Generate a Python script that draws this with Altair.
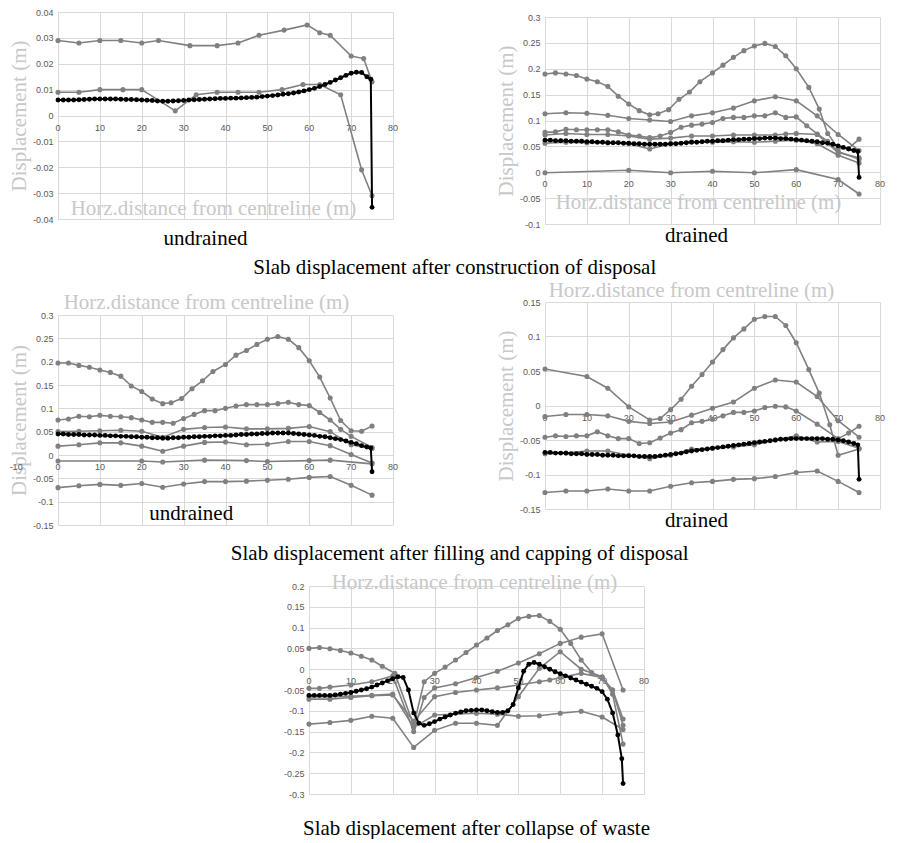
import altair as alt
import pandas as pd

SERIF = "Liberation Serif"
SANS = "Liberation Sans"
GRAY = "#808080"
GRID = "#d9d9d9"
LIGHT = "#c8c8c8"
LABEL = "#595959"
XTITLE = "Horz.distance from centreline (m)"
YTITLE = "Displacement (m)"

# x positions of the dense (black) mesh series
BLACK_X = [0, 1.25, 2.5, 3.75, 5, 6.25, 7.5, 8.75, 10, 11.25, 12.5, 13.75, 15, 16.25, 17.5, 18.75, 20,
           21.25, 22.5, 23.75, 25, 26.25, 27.5, 28.75, 30,
           31.25, 32.5, 33.75, 35, 36.25, 37.5, 38.75, 40, 41.25, 42.5, 43.75, 45,
           46.25, 47.5, 48.75, 50, 51.25, 52.5, 53.75, 55, 56.25, 57.5, 58.75, 60,
           61.25, 62.5, 63.75, 65, 66.25, 67.5, 68.75, 70, 71.25, 72.5, 73.75,
           74.7, 75]

# ---------------- panel 1 : construction, undrained ----------------
P1_BLACK = [0.0060, 0.0060, 0.0060, 0.0060, 0.0061, 0.0062, 0.0063, 0.0064, 0.0064, 0.0064, 0.0064, 0.0064, 0.0063, 0.0062, 0.0062, 0.0061, 0.0060,
            0.0059, 0.0058, 0.0056, 0.0055, 0.0055, 0.0056, 0.0057, 0.0058,
            0.0060, 0.0061, 0.0062, 0.0063, 0.0064, 0.0065, 0.0066, 0.0066, 0.0067, 0.0067, 0.0068, 0.0069,
            0.0070, 0.0071, 0.0073, 0.0075, 0.0077, 0.0079, 0.0082, 0.0084, 0.0087, 0.0091, 0.0095, 0.0100,
            0.0105, 0.0112, 0.0120, 0.0128, 0.0137, 0.0146, 0.0155, 0.0163, 0.0167, 0.0166, 0.0150,
            0.0140, -0.0355]
P1_A_X = [0, 5, 10, 15, 20, 24, 31.5, 38, 43, 48, 54, 59.5, 62.5, 65, 70, 73, 75]
P1_A_Y = [0.029, 0.028, 0.029, 0.029, 0.028, 0.029, 0.027, 0.027, 0.028, 0.031, 0.033, 0.035, 0.032, 0.031, 0.023, 0.022, 0.013]
P1_B_X = [0, 5, 10, 15.5, 20, 28, 33, 38, 43, 48, 53.5, 58.5, 62.5, 67.5, 72.5, 75]
P1_B_Y = [0.009, 0.009, 0.010, 0.010, 0.010, 0.0018, 0.008, 0.009, 0.009, 0.009, 0.010, 0.012, 0.012, 0.008, -0.021, -0.031]
P1_YTICKS = [-0.04, -0.03, -0.02, -0.01, 0, 0.01, 0.02, 0.03, 0.04]

# ---------------- panel 2 : construction, drained ----------------
P2_BLACK = [0.062, 0.062, 0.061, 0.061, 0.061, 0.060, 0.060, 0.060, 0.059, 0.059, 0.058, 0.058, 0.057, 0.057, 0.057, 0.056, 0.056,
            0.055, 0.055, 0.054, 0.054, 0.054, 0.054, 0.054, 0.055,
            0.055, 0.056, 0.057, 0.058, 0.058, 0.059, 0.060, 0.060, 0.061, 0.061, 0.062, 0.063,
            0.063, 0.064, 0.064, 0.065, 0.065, 0.066, 0.066, 0.066, 0.065, 0.065, 0.064, 0.063,
            0.062, 0.061, 0.060, 0.059, 0.057, 0.056, 0.054, 0.051, 0.048, 0.045, 0.042,
            0.040, -0.010]
P2_A_X = [0, 2.5, 5, 7.5, 10, 12.5, 15, 17.5, 20, 22.5, 25, 27, 29.5, 32, 34.5, 37, 40, 42.5, 45, 47.5, 50, 52.5, 55, 57.5, 60, 63, 65.5, 67.5, 70, 72.5, 75]
P2_A_Y = [0.190, 0.192, 0.190, 0.187, 0.180, 0.175, 0.166, 0.147, 0.132, 0.119, 0.111, 0.113, 0.121, 0.141, 0.155, 0.175, 0.192, 0.207, 0.222, 0.235, 0.244, 0.249, 0.243, 0.225, 0.200, 0.164, 0.122, 0.075, 0.046, 0.046, 0.064]
P2_B_X = [0, 5, 10, 15, 20, 25, 30, 35, 40, 45, 50, 55, 60, 65, 70, 75]
P2_B_Y = [0.113, 0.115, 0.114, 0.110, 0.104, 0.101, 0.098, 0.109, 0.115, 0.124, 0.138, 0.146, 0.138, 0.109, 0.073, 0.042]
P2_C_X = [0, 2.5, 5, 7.5, 10, 12.5, 15, 17.5, 20, 22.5, 25, 27.5, 30, 32.5, 35, 37.5, 40, 42.5, 45, 47.5, 50, 52.5, 55, 57.5, 60, 62.5, 65, 67.5, 70, 75]
P2_C_Y = [0.077, 0.078, 0.083, 0.082, 0.082, 0.082, 0.082, 0.078, 0.072, 0.070, 0.067, 0.070, 0.077, 0.087, 0.091, 0.093, 0.096, 0.104, 0.106, 0.106, 0.109, 0.109, 0.115, 0.106, 0.107, 0.090, 0.074, 0.060, 0.040, 0.025]
P2_D_X = [0, 5, 10, 15, 20, 25, 30, 35, 40, 45, 50, 55, 57.5, 60, 65, 70, 75]
P2_D_Y = [0.072, 0.075, 0.073, 0.073, 0.070, 0.064, 0.066, 0.070, 0.070, 0.072, 0.072, 0.072, 0.074, 0.075, 0.073, 0.038, 0.028]
P2_E_X = [0, 5, 10, 15, 20, 25, 30, 35, 40, 45, 50, 55, 60, 65, 70, 75]
P2_E_Y = [0.056, 0.058, 0.057, 0.057, 0.055, 0.045, 0.055, 0.059, 0.058, 0.059, 0.058, 0.060, 0.062, 0.055, 0.033, 0.018]
P2_F_X = [0, 20, 30, 40, 50, 60, 70, 75]
P2_F_Y = [-0.001, 0.004, -0.001, 0.002, -0.001, 0.005, -0.014, -0.042]
P2_YTICKS = [-0.1, -0.05, 0, 0.05, 0.1, 0.15, 0.2, 0.25, 0.3]
P2_NOTE_X = [36.2]
P2_NOTE_Y = [-0.124]
P2_NOTE_T = ["drained"]

# ---------------- panel 3 : filling and capping, undrained ----------------
P3_BLACK = [0.045, 0.045, 0.044, 0.044, 0.044, 0.043, 0.043, 0.043, 0.042, 0.042, 0.041, 0.041, 0.040, 0.040, 0.039, 0.039, 0.038,
            0.038, 0.037, 0.037, 0.036, 0.036, 0.037, 0.037, 0.038,
            0.038, 0.039, 0.039, 0.040, 0.040, 0.041, 0.041, 0.042, 0.042, 0.043, 0.044, 0.044,
            0.045, 0.045, 0.046, 0.046, 0.047, 0.047, 0.047, 0.047, 0.046, 0.045, 0.044, 0.043,
            0.042, 0.040, 0.039, 0.037, 0.035, 0.033, 0.030, 0.027, 0.024, 0.020, 0.017,
            0.015, -0.036]
P3_A_X = [0, 2.5, 5, 7.5, 10, 12.5, 15, 17.5, 20, 22.5, 25, 27, 29.5, 32, 34.5, 37, 40, 42.5, 45, 47.5, 50, 52.5, 55, 57.5, 60, 62.5, 65, 67.5, 70, 72.5, 75]
P3_A_Y = [0.197, 0.197, 0.192, 0.188, 0.182, 0.177, 0.169, 0.148, 0.136, 0.120, 0.110, 0.112, 0.121, 0.142, 0.159, 0.179, 0.194, 0.214, 0.224, 0.237, 0.248, 0.254, 0.248, 0.230, 0.202, 0.167, 0.122, 0.074, 0.052, 0.051, 0.062]
P3_B_X = [0, 2.5, 5, 7.5, 10, 12.5, 15, 17.5, 20, 22.5, 25, 27.5, 30, 32.5, 35, 37.5, 40, 42.5, 45, 47.5, 50, 52.5, 55, 57.5, 60, 62.5, 65, 67.5, 70, 75]
P3_B_Y = [0.075, 0.077, 0.083, 0.082, 0.085, 0.083, 0.082, 0.080, 0.075, 0.070, 0.070, 0.068, 0.078, 0.087, 0.095, 0.095, 0.100, 0.105, 0.108, 0.108, 0.108, 0.110, 0.113, 0.108, 0.106, 0.091, 0.075, 0.055, 0.040, 0.016]
P3_C_X = [0, 5, 10, 15, 20, 25, 30, 35, 40, 45, 50, 55, 60, 65, 70, 75]
P3_C_Y = [0.050, 0.051, 0.052, 0.053, 0.051, 0.038, 0.055, 0.059, 0.060, 0.056, 0.056, 0.057, 0.061, 0.050, 0.022, 0.014]
P3_D_X = [0, 5, 10, 15, 20, 25, 30, 35, 40, 45, 50, 55, 60, 65, 70, 75]
P3_D_Y = [0.019, 0.022, 0.026, 0.026, 0.019, 0.008, 0.019, 0.027, 0.028, 0.022, 0.023, 0.029, 0.029, 0.020, 0.001, -0.017]
P3_E_X = [0, 20, 25, 35, 45, 50, 60, 65, 75]
P3_E_Y = [-0.013, -0.013, -0.015, -0.011, -0.012, -0.014, -0.012, -0.011, -0.019]
P3_F_X = [0, 5, 10, 15, 20, 25, 30, 35, 40, 45, 50, 55, 60, 65, 70, 75]
P3_F_Y = [-0.070, -0.066, -0.063, -0.065, -0.061, -0.069, -0.062, -0.057, -0.057, -0.056, -0.054, -0.052, -0.048, -0.046, -0.065, -0.086]
P3_YTICKS = [-0.15, -0.1, -0.05, 0, 0.05, 0.1, 0.15, 0.2, 0.25, 0.3]
P3_NOTE_X = [31.8]
P3_NOTE_Y = [-0.126]
P3_NOTE_T = ["undrained"]

# ---------------- panel 4 : filling and capping, drained ----------------
P4_BLACK = [-0.068, -0.068, -0.069, -0.069, -0.069, -0.070, -0.070, -0.070, -0.071, -0.071, -0.071, -0.072, -0.072, -0.072, -0.073, -0.073, -0.073,
            -0.073, -0.074, -0.074, -0.074, -0.074, -0.073, -0.072, -0.071,
            -0.070, -0.069, -0.067, -0.066, -0.065, -0.064, -0.063, -0.062, -0.061, -0.060, -0.059, -0.058,
            -0.057, -0.056, -0.055, -0.054, -0.053, -0.052, -0.051, -0.050, -0.049, -0.049, -0.048, -0.048,
            -0.048, -0.048, -0.048, -0.048, -0.048, -0.049, -0.049, -0.050, -0.051, -0.053, -0.055,
            -0.057, -0.107]
P4_A_X = [0, 10, 15, 20, 25, 27.5, 30, 32.5, 35, 37.5, 40, 42.5, 45, 47.5, 50, 52.5, 55, 57.5, 60, 63, 65.5, 68, 70, 75]
P4_A_Y = [0.053, 0.042, 0.025, -0.002, -0.021, -0.019, -0.006, 0.009, 0.028, 0.045, 0.063, 0.081, 0.098, 0.111, 0.125, 0.129, 0.129, 0.116, 0.091, 0.052, 0.018, -0.028, -0.072, -0.063]
P4_B_X = [0, 5, 10, 15, 20, 25, 30, 35, 40, 45, 50, 55, 60, 65, 70, 75]
P4_B_Y = [-0.016, -0.013, -0.013, -0.015, -0.023, -0.026, -0.024, -0.014, -0.004, 0.005, 0.025, 0.037, 0.034, 0.013, -0.022, -0.046]
P4_C_X = [0, 2.5, 5, 7.5, 10, 12.5, 15, 17.5, 20, 22.5, 25, 27.5, 30, 32.5, 35, 37.5, 40, 42.5, 45, 47.5, 50, 52.5, 55, 57.5, 60, 65, 70, 72.5, 75]
P4_C_Y = [-0.046, -0.044, -0.045, -0.044, -0.044, -0.038, -0.044, -0.048, -0.048, -0.055, -0.054, -0.047, -0.040, -0.035, -0.025, -0.023, -0.020, -0.015, -0.010, -0.010, -0.008, -0.003, -0.001, -0.002, -0.008, -0.027, -0.048, -0.040, -0.030]
P4_D_X = [0, 5, 10, 15, 20, 25, 30, 35, 40, 45, 50, 55, 60, 65, 70, 75]
P4_D_Y = [-0.070, -0.069, -0.066, -0.066, -0.072, -0.077, -0.072, -0.063, -0.062, -0.060, -0.057, -0.050, -0.044, -0.053, -0.052, -0.062]
P4_E_X = [0, 5, 10, 15, 20, 25, 30, 35, 40, 45, 50, 55, 60, 65, 70, 75]
P4_E_Y = [-0.126, -0.124, -0.124, -0.121, -0.124, -0.124, -0.117, -0.112, -0.110, -0.107, -0.106, -0.103, -0.097, -0.095, -0.110, -0.126]
P4_YTICKS = [-0.15, -0.1, -0.05, 0, 0.05, 0.1, 0.15]

# ---------------- panel 5 : collapse of waste ----------------
P5_BLACK = [-0.063, -0.063, -0.063, -0.063, -0.063, -0.062, -0.060, -0.058, -0.056, -0.053, -0.050, -0.047, -0.043, -0.038, -0.033, -0.028, -0.023,
            -0.018, -0.020, -0.050, -0.105, -0.130, -0.135, -0.131, -0.126,
            -0.120, -0.115, -0.110, -0.106, -0.103, -0.100, -0.099, -0.098, -0.098, -0.100, -0.102, -0.104,
            -0.104, -0.100, -0.085, -0.045, -0.005, 0.012, 0.016, 0.012, 0.006, 0.000, -0.006, -0.011,
            -0.016, -0.021, -0.026, -0.031, -0.036, -0.041, -0.046, -0.054, -0.072, -0.105, -0.158,
            -0.215, -0.275]
P5_A_X = [0, 2.5, 5, 7.5, 10, 12.5, 15, 17.5, 20.5, 25, 27.5, 30, 32.5, 35, 37.5, 40, 42.5, 45, 47.5, 50, 52.5, 55, 57.5, 60, 62.5, 65, 67.5, 70, 72.5, 75]
P5_A_Y = [0.050, 0.052, 0.049, 0.045, 0.039, 0.031, 0.022, 0.007, -0.010, -0.135, -0.030, -0.010, 0.005, 0.022, 0.040, 0.058, 0.075, 0.093, 0.107, 0.122, 0.127, 0.129, 0.115, 0.096, 0.062, 0.022, -0.008, -0.022, -0.050, -0.120]
P5_B_X = [0, 2.5, 5, 10, 15, 20, 25, 27.5, 30, 35, 40, 45, 50, 55, 60, 65, 70, 75]
P5_B_Y = [-0.046, -0.046, -0.043, -0.038, -0.030, -0.016, -0.150, -0.068, -0.045, -0.035, -0.020, -0.005, 0.015, 0.037, 0.062, 0.077, 0.085, -0.050]
P5_C_X = [0, 5, 10, 15, 20, 25, 30, 35, 40, 45, 50, 55, 57.5, 60, 65, 70, 72.5, 75]
P5_C_Y = [-0.072, -0.072, -0.068, -0.064, -0.062, -0.125, -0.066, -0.056, -0.050, -0.045, -0.038, -0.030, -0.026, -0.020, -0.010, -0.020, -0.050, -0.135]
P5_D_X = [0, 5, 10, 15, 20, 25, 30, 35, 40, 45, 50, 55, 60, 65, 70, 72.5, 75]
P5_D_Y = [-0.132, -0.128, -0.123, -0.113, -0.118, -0.188, -0.147, -0.130, -0.130, -0.135, -0.066, 0.002, 0.042, 0.000, -0.018, -0.060, -0.180]
P5_E_X = [0, 5, 10, 15, 20, 25, 30, 40, 45, 50, 55, 60, 65, 70, 75]
P5_E_Y = [-0.066, -0.066, -0.065, -0.063, -0.060, -0.140, -0.110, -0.106, -0.108, -0.113, -0.112, -0.106, -0.101, -0.115, -0.145]
P5_YTICKS = [-0.3, -0.25, -0.2, -0.15, -0.1, -0.05, 0, 0.05, 0.1, 0.15, 0.2]

X_TICKS = [0, 10, 20, 30, 40, 50, 60, 70, 80]
X_LABELS = ["0", "10", "20", "30", "40", "50", "60", "70", "80"]
P3_X_TICKS = [-10, 0, 10, 20, 30, 40, 50, 60, 70, 80]
P3_X_LABELS = ["-10", "0", "10", "20", "30", "40", "50", "60", "70", "80"]


def gray_frame(series):
    rows = []
    for name, xs, ys in series:
        for i, (xv, yv) in enumerate(zip(xs, ys)):
            rows.append({"s": name, "i": i, "x": xv, "y": yv})
    return pd.DataFrame(rows)


def panel(series, black, ydom, yticks, height, xorient, title_x, title_y,
          xticks=X_TICKS, xlabels=X_LABELS, ytitle=YTITLE, note=None):
    xaxis = alt.Axis(orient=xorient, values=X_TICKS, labels=False, ticks=False, domain=False,
                     grid=True, gridColor=GRID, gridWidth=1,
                     title=XTITLE, titleFont=SERIF, titleFontSize=21, titleFontWeight="normal",
                     titleColor=LIGHT, titleX=title_x, titleY=title_y, titleBaseline="middle",
                     titleAlign="center")
    yargs = dict(values=yticks, format=".2~f", labelExpr="replace(datum.label, '\u2212', '-')",
                 labelFont=SANS, labelFontSize=9, labelColor=LABEL, labelPadding=5,
                 ticks=False, domain=False, grid=True, gridColor=GRID, gridWidth=1)
    if ytitle:
        yaxis = alt.Axis(title=ytitle, titleFont=SERIF, titleFontSize=21, titleFontWeight="normal",
                         titleColor=LIGHT, titlePadding=3, **yargs)
    else:
        yaxis = alt.Axis(title=None, **yargs)
    xe = alt.X("x:Q", scale=alt.Scale(domain=[0, 80], nice=False, zero=False), axis=xaxis)
    ye = alt.Y("y:Q", scale=alt.Scale(domain=ydom, nice=False, zero=False), axis=yaxis)

    gdf = gray_frame(series)
    bdf = pd.DataFrame({"x": BLACK_X, "y": black})
    ldf = pd.DataFrame({"x": xticks, "y": [0] * len(xticks), "t": xlabels})

    labels = alt.Chart(ldf).mark_text(font=SANS, fontSize=9, color=LABEL, baseline="middle",
                                      dy=12).encode(x=xe, y=ye, text="t:N")
    gl = alt.Chart(gdf).mark_line(color=GRAY, strokeWidth=1.6).encode(
        x=xe, y=ye, detail="s:N", order="i:Q")
    gp = alt.Chart(gdf).mark_circle(color=GRAY, size=26, opacity=1).encode(x=xe, y=ye)
    bl = alt.Chart(bdf).mark_line(color="black", strokeWidth=2).encode(x=xe, y=ye)
    bp = alt.Chart(bdf).mark_circle(color="black", size=24, opacity=1).encode(x=xe, y=ye)
    layers = [labels, gl, gp, bl, bp]
    if note is not None:
        ndf = pd.DataFrame({"x": note[0], "y": note[1], "t": note[2]})
        layers.append(alt.Chart(ndf).mark_text(font=SERIF, fontSize=21, color="black",
                                               baseline="middle").encode(x=xe, y=ye, text="t:N"))
    return alt.layer(*layers).properties(width=335, height=height)


def bottom_title(text, offset, dx=0):
    return alt.TitleParams(text, orient="bottom", anchor="middle", font=SERIF, fontSize=21,
                           fontWeight="normal", color="black", offset=offset, dx=dx)


def spacer(w=1):
    return alt.Chart(pd.DataFrame({"v": [0]})).mark_point(
        opacity=0, size=0, strokeWidth=0).encode(
        x=alt.value(0), y=alt.value(0)).properties(width=w, height=1)


p1 = panel([("a", P1_A_X, P1_A_Y), ("b", P1_B_X, P1_B_Y)], P1_BLACK,
           [-0.04, 0.04], P1_YTICKS, 207, "bottom", 155, -11).properties(
    title=bottom_title("undrained", 4, dx=-20))
p2 = panel([("a", P2_A_X, P2_A_Y), ("b", P2_B_X, P2_B_Y), ("c", P2_C_X, P2_C_Y),
            ("d", P2_D_X, P2_D_Y), ("e", P2_E_X, P2_E_Y), ("f", P2_F_X, P2_F_Y)], P2_BLACK,
           [-0.1, 0.3], P2_YTICKS, 207, "bottom", 153, -22,
           note=(P2_NOTE_X, P2_NOTE_Y, P2_NOTE_T))
p3 = panel([("a", P3_A_X, P3_A_Y), ("b", P3_B_X, P3_B_Y), ("c", P3_C_X, P3_C_Y),
            ("d", P3_D_X, P3_D_Y), ("e", P3_E_X, P3_E_Y), ("f", P3_F_X, P3_F_Y)], P3_BLACK,
           [-0.15, 0.3], P3_YTICKS, 210, "top", 148, -13,
           xticks=P3_X_TICKS, xlabels=P3_X_LABELS,
           note=(P3_NOTE_X, P3_NOTE_Y, P3_NOTE_T))
p4 = panel([("a", P4_A_X, P4_A_Y), ("b", P4_B_X, P4_B_Y), ("c", P4_C_X, P4_C_Y),
            ("d", P4_D_X, P4_D_Y), ("e", P4_E_X, P4_E_Y)], P4_BLACK,
           [-0.15, 0.15], P4_YTICKS, 207, "top", 146, -12).properties(
    title=bottom_title("drained", -4, dx=-16))
p5 = panel([("a", P5_A_X, P5_A_Y), ("b", P5_B_X, P5_B_Y), ("c", P5_C_X, P5_C_Y),
            ("d", P5_D_X, P5_D_Y), ("e", P5_E_X, P5_E_Y)], P5_BLACK,
           [-0.3, 0.2], P5_YTICKS, 208, "top", 165, -4, ytitle=None).properties(
    title=bottom_title("Slab displacement after collapse of waste", 19, dx=0))

row1 = alt.hconcat(alt.vconcat(spacer(), p1, spacing=-2),
                   alt.vconcat(spacer(), p2, spacing=3),
                   spacing=96).properties(
    title=bottom_title("Slab displacement after construction of disposal", 8, dx=8))
row2 = alt.hconcat(alt.vconcat(spacer(), p3, spacing=12),
                   alt.vconcat(spacer(), p4, spacing=0),
                   spacing=96).properties(
    title=bottom_title("Slab displacement after filling and capping of disposal", 12, dx=13))
row3 = alt.hconcat(spacer(), p5, spacing=224)

upper = alt.vconcat(row1, row2, spacing=0)
chart = alt.vconcat(upper, row3, spacing=7).properties(
    padding=0, background="white"
).configure_view(stroke=None)

chart.save("out.html", embed_options={"renderer": "svg", "actions": False})
